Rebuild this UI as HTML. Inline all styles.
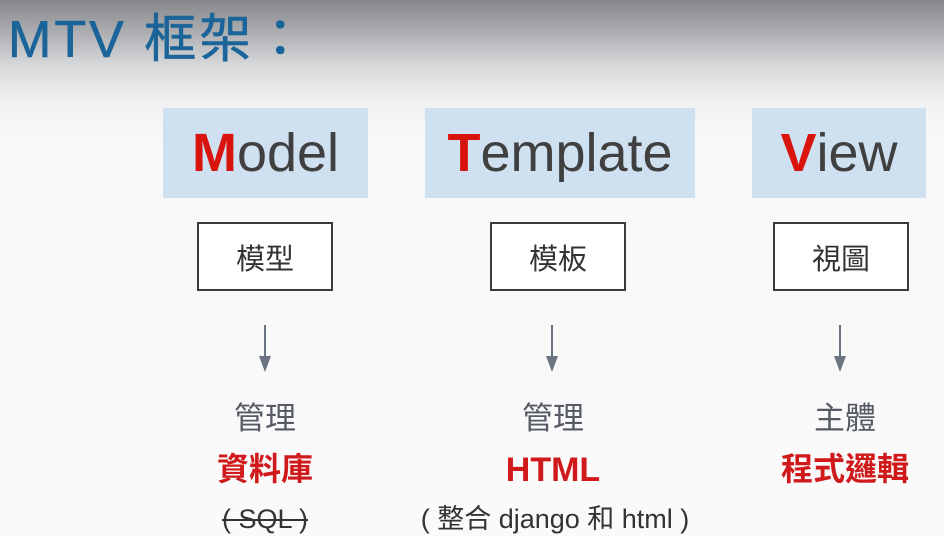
<!DOCTYPE html>
<html><head><meta charset="utf-8"><style>
*{margin:0;padding:0;box-sizing:border-box}
body{width:944px;height:536px;overflow:hidden;position:relative;font-family:"Liberation Sans","Noto Sans CJK TC",sans-serif;background:linear-gradient(to bottom,#86878b 0px,#a9abae 30px,#d6d8da 65px,#f0f1f3 100px,#f8f8fa 140px,#fafafb 536px)}
.a{position:absolute}
.title{left:8px;top:14px;font-size:52px;line-height:1;color:#1b6499;font-weight:normal;letter-spacing:3px;white-space:nowrap;-webkit-text-stroke:0.6px #1b6499}
.lab{background:#cfe1f0;top:108px;height:90px;display:flex;align-items:center;justify-content:center;font-size:54px;color:#404040}
.lab b{color:#d9140f}
.box{top:222px;height:69px;border:2px solid #3a3a3a;background:#fff;display:flex;align-items:center;justify-content:center;font-size:29px;color:#333}
.arr{width:2px;background:#6b7280;top:325px;height:34px}
.head{top:356px;width:0;height:0;border-left:6px solid transparent;border-right:6px solid transparent;border-top:16px solid #6b7280}
.t{text-align:center;white-space:nowrap;line-height:1}
.g{top:403px;font-size:31px;color:#555a63}
.r{top:453px;font-size:32px;color:#d0191b;font-weight:bold}
.s{top:506px;font-size:27px;color:#333}
</style></head><body>
<div class="a title">MTV 框架：</div>

<div class="a lab" style="left:163px;width:205px"><span><b>M</b>odel</span></div>
<div class="a lab" style="left:425px;width:270px"><span><b>T</b>emplate</span></div>
<div class="a lab" style="left:752px;width:174px"><span><b>V</b>iew</span></div>

<div class="a box" style="left:197px;width:136px">模型</div>
<div class="a box" style="left:490px;width:136px">模板</div>
<div class="a box" style="left:773px;width:136px">視圖</div>

<div class="a arr" style="left:264px"></div><div class="a head" style="left:259px"></div>
<div class="a arr" style="left:551px"></div><div class="a head" style="left:546px"></div>
<div class="a arr" style="left:839px"></div><div class="a head" style="left:834px"></div>

<div class="a t g" style="left:165px;width:200px">管理</div>
<div class="a t g" style="left:453px;width:200px">管理</div>
<div class="a t g" style="left:745px;width:200px">主體</div>

<div class="a t r" style="left:165px;width:200px">資料庫</div>
<div class="a t r" style="left:453px;width:200px;font-size:34px">HTML</div>
<div class="a t r" style="left:745px;width:200px">程式邏輯</div>

<div class="a t s" style="left:165px;width:200px;text-decoration:line-through">( SQL )</div>
<div class="a t s" style="left:400px;width:310px">( 整合 django 和 html )</div>
</body></html>
